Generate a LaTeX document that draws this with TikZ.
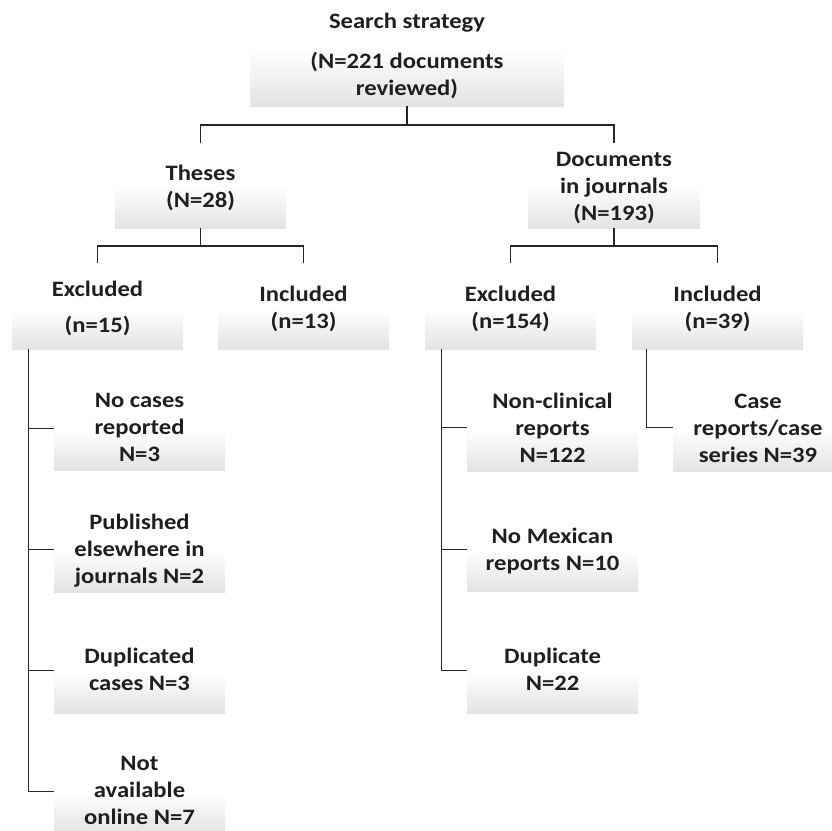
\documentclass[tikz,border=0pt]{standalone}
\usepackage{fontspec}
\setmainfont{Carlito}[FakeStretch=1.12]
\begin{document}
\begin{tikzpicture}[x=1pt,y=-1pt,
  box/.style={rectangle, inner sep=0pt, top color=white, bottom color=gray!22, draw=none, minimum width=171pt},
  lbl/.style={anchor=base, align=center, inner sep=0pt, font=\bfseries\fontsize{22}{27}\selectfont, text=black!88},
  conn/.style={draw=black!85, line width=1.2pt}]
\useasboundingbox (0,0) rectangle (831,831);
% boxes
\node[box, minimum width=314pt, minimum height=56pt] (top) at (407,78) {};
\node[box, minimum height=43pt] (theses) at (200.5,206.5) {};
\node[box, minimum width=172pt, minimum height=43pt] (docs) at (614,206.5) {};
\node[box, minimum height=41pt] (exL) at (97.5,328.5) {};
\node[box, minimum height=41pt] (inL) at (303.5,328.5) {};
\node[box, minimum height=41pt] (exR) at (510.5,328.5) {};
\node[box, minimum height=41pt] (inR) at (717.5,328.5) {};
\node[box, minimum height=41pt] (b1) at (139.5,449.5) {};
\node[box, minimum height=42pt] (b2) at (139.5,571) {};
\node[box, minimum height=42pt] (b3) at (139.5,692) {};
\node[box, minimum height=43pt] (b4) at (139.5,813) {};
\node[box, minimum height=43pt] (r1) at (552.5,449.5) {};
\node[box, minimum height=41pt] (r2) at (552.5,570.5) {};
\node[box, minimum height=42pt] (r3) at (552.5,692) {};
\node[box, minimum height=43pt] (c1) at (758.5,449.5) {};
% texts (anchor base = last line's baseline)
\node[lbl] (ttitle) at (407,28) {Search strategy};
\node[lbl] (ttop) at (407,95) {(N=221 documents\\reviewed)};
\node[lbl] (tth) at (200.5,207) {Theses\\(N=28)};
\node[lbl] (tdoc) at (614,220) {Documents\\in journals\\(N=193)};
\node[lbl] (texL) at (97.5,332) {Excluded\\[9pt](n=15)};
\node[lbl] (tinL) at (303.5,328) {Included\\(n=13)};
\node[lbl] (texR) at (510.5,328) {Excluded\\(n=154)};
\node[lbl] (tinR) at (717.5,328) {Included\\(n=39)};
\node[lbl] (tb1) at (139.5,461) {No cases\\reported\\N=3};
\node[lbl] (tb2) at (139.5,583) {Published\\elsewhere in\\journals N=2};
\node[lbl] (tb3) at (139.5,690) {Duplicated\\cases N=3};
\node[lbl] (tb4) at (139.5,824) {Not\\available\\online N=7};
\node[lbl] (tr1) at (552.5,462) {Non-clinical\\reports\\N=122};
\node[lbl] (tr2) at (552.5,570) {No Mexican\\reports N=10};
\node[lbl] (tr3) at (552.5,690) {Duplicate\\N=22};
\node[lbl] (tc1) at (758,462) {Case\\reports/case\\series N=39};
% connectors
\coordinate (j0) at (407,125);
\coordinate (tt) at (200.5,143);
\coordinate (dt) at (614,143);
\draw[conn] (top.south) -- (j0);
\draw[conn] (tt) |- (j0) -| (dt);
\coordinate (j1) at (200.5,246);
\coordinate (el) at (97.5,263);
\coordinate (il) at (303.5,263);
\draw[conn] (theses.south) -- (j1);
\draw[conn] (el) |- (j1) -| (il);
\coordinate (j2) at (614,246);
\coordinate (er) at (510.5,263);
\coordinate (ir) at (717.5,263);
\draw[conn] (docs.south) -- (j2);
\draw[conn] (er) |- (j2) -| (ir);
\foreach \b in {b1,b2,b3,b4}
  \draw[conn] ([xshift=17pt]exL.south west) |- (\b.north west);
\foreach \b in {r1,r2,r3}
  \draw[conn] ([xshift=17pt]exR.south west) |- (\b.north west);
\draw[conn] ([xshift=15pt]inR.south west) |- (c1.north west);
\end{tikzpicture}
\end{document}
